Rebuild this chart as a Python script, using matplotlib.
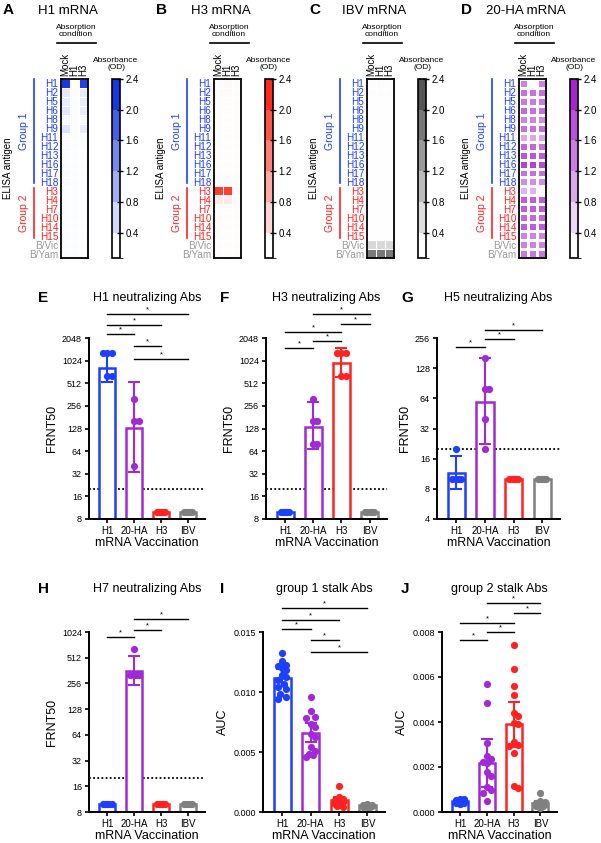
import numpy as np
import matplotlib
matplotlib.use("Agg")
import matplotlib.pyplot as plt
from matplotlib.colors import LinearSegmentedColormap, ListedColormap, BoundaryNorm, Normalize
from matplotlib.cm import ScalarMappable
from matplotlib.lines import Line2D
import matplotlib.transforms as mtransforms

plt.rcParams['font.family'] = ['Liberation Sans', 'DejaVu Sans']

# ---------------- data ----------------
rows = ["H1", "H2", "H5", "H6", "H8", "H9", "H11", "H12", "H13", "H16", "H17", "H18",
        "H3", "H4", "H7", "H10", "H14", "H15", "B/Vic", "B/Yam"]
conds = ["Mock", "H1", "H3"]

# absorbance (OD) per ELISA antigen x absorption condition
od_h1 = [[2.4, 0.07, 2.3], [0.35, 0.1, 0.3], [0.3, 0.1, 0.3], [0.35, 0.1, 0.3],
         [0.15, 0.1, 0.15], [0.4, 0.1, 0.3], [0.12, 0.1, 0.1], [0.12, 0.1, 0.1],
         [0.1, 0.1, 0.1], [0.1, 0.1, 0.1], [0.12, 0.1, 0.1], [0.12, 0.1, 0.1],
         [0.1, 0.1, 0.1], [0.1, 0.1, 0.1], [0.1, 0.1, 0.1], [0.1, 0.1, 0.1],
         [0.1, 0.1, 0.1], [0.12, 0.1, 0.1], [0.1, 0.1, 0.1], [0.1, 0.1, 0.1]]
od_h3 = [[0.1, 0.15, 0.1], [0.12, 0.12, 0.1], [0.1, 0.1, 0.1], [0.1, 0.1, 0.1],
         [0.1, 0.1, 0.1], [0.1, 0.1, 0.1], [0.1, 0.1, 0.1], [0.1, 0.1, 0.1],
         [0.1, 0.1, 0.1], [0.1, 0.1, 0.1], [0.1, 0.1, 0.1], [0.1, 0.1, 0.1],
         [2.2, 2.2, 0.15], [0.3, 0.3, 0.1], [0.1, 0.1, 0.1], [0.1, 0.1, 0.1],
         [0.1, 0.1, 0.1], [0.1, 0.1, 0.1], [0.1, 0.1, 0.1], [0.1, 0.1, 0.1]]
od_ibv = [[0.1, 0.12, 0.1], [0.1, 0.1, 0.1], [0.08, 0.08, 0.08], [0.08, 0.08, 0.08],
          [0.08, 0.08, 0.08], [0.08, 0.08, 0.08], [0.08, 0.08, 0.08], [0.08, 0.08, 0.08],
          [0.08, 0.08, 0.08], [0.08, 0.08, 0.08], [0.08, 0.08, 0.08], [0.08, 0.08, 0.08],
          [0.08, 0.08, 0.08], [0.08, 0.08, 0.08], [0.08, 0.08, 0.08], [0.08, 0.08, 0.08],
          [0.08, 0.08, 0.08], [0.08, 0.08, 0.08], [0.6, 0.6, 0.6], [1.9, 1.9, 1.9]]
od_20ha = [[1.4, 0.07, 1.4], [1.6, 1.6, 1.6], [1.5, 1.5, 1.5], [1.7, 1.6, 1.6],
           [1.4, 1.4, 1.3], [1.6, 1.6, 1.6], [1.0, 1.0, 1.0], [1.7, 1.7, 1.6],
           [1.9, 1.9, 1.8], [2.1, 2.1, 2.0], [1.6, 1.6, 1.6], [1.3, 1.3, 1.3],
           [0.9, 0.9, 0.07], [1.8, 1.8, 1.8], [1.8, 1.8, 1.8], [1.7, 1.7, 1.7],
           [1.8, 1.8, 1.8], [1.4, 1.4, 1.4], [1.4, 1.4, 1.4], [1.5, 1.5, 1.5]]

groups = ["H1", "20-HA", "H3", "IBV"]

# E: H1 neutralizing (FRNT50)
e_pts = [[1280, 1280, 1280, 640, 640], [320, 160, 160, 40], [10, 10, 10, 10, 10], [10, 10, 10, 10, 10]]
e_mean = [815, 130, 10, 10]
e_lo = [540, 34, 10, 10]
e_hi = [1290, 530, 10, 10]
# F: H3 neutralizing
f_pts = [[10, 10, 10, 10, 10], [320, 160, 160, 80, 80], [1280, 1280, 1280, 640, 640], [10, 10, 10, 10, 10]]
f_mean = [10, 136, 950, 10]
f_lo = [10, 68, 620, 10]
f_hi = [10, 284, 1530, 10]
# G: H5 neutralizing
g_pts = [[20, 10, 10, 10, 10], [160, 80, 80, 40, 20], [10, 10, 10, 10, 10], [10, 10, 10, 10, 10]]
g_mean = [11.4, 59, 10, 10]
g_lo = [7.9, 22.6, 10, 10]
g_hi = [16.9, 160, 10, 10]
# H: H7 neutralizing
h_pts = [[10, 10, 10, 10, 10], [640, 320, 320, 320, 320], [10, 10, 10, 10, 10], [10, 10, 10, 10, 10]]
h_mean = [10, 362, 10, 10]
h_lo = [10, 248, 10, 10]
h_hi = [10, 541, 10, 10]
# I: group 1 stalk (AUC)
i_pts = [[0.01325, 0.01256, 0.01222, 0.01217, 0.01203, 0.01186, 0.01139, 0.01125, 0.01097,
          0.01064, 0.01042, 0.01028, 0.00986, 0.00958, 0.00944],
         [0.00958, 0.00839, 0.00792, 0.00783, 0.00736, 0.00708, 0.00653, 0.00625, 0.00542,
          0.00508, 0.00486, 0.00472, 0.00458],
         [0.0022, 0.00125, 0.0011, 0.0010, 0.0010, 0.0009, 0.0009, 0.0008, 0.0008, 0.0007,
          0.0006, 0.0005, 0.0004],
         [0.0007, 0.0006, 0.0006, 0.0005, 0.0005, 0.0005, 0.0005, 0.0004, 0.0004, 0.0004]]
i_mean = [0.0112, 0.0066, 0.00097, 0.00056]
i_err = [0.0007, 0.0008, 0.0003, 0.0001]
# J: group 2 stalk (AUC)
j_pts = [[0.0006, 0.00058, 0.00055, 0.00052, 0.0005, 0.0005, 0.00048, 0.00046, 0.00045,
          0.00044, 0.00042, 0.0004, 0.0004, 0.00038, 0.00035],
         [0.00571, 0.00486, 0.00306, 0.00249, 0.00235, 0.00224, 0.0022, 0.0018, 0.00158,
          0.00111, 0.00096, 0.00084, 0.00047],
         [0.00744, 0.00635, 0.0056, 0.00522, 0.00438, 0.00427, 0.00394, 0.00391, 0.00313,
          0.00298, 0.00295, 0.00261, 0.00117, 0.00106],
         [0.00084, 0.0005, 0.00045, 0.0004, 0.00038, 0.00035, 0.0003, 0.00028, 0.00025, 0.0002]]
j_mean = [0.00047, 0.00217, 0.0039, 0.00038]
j_err = [0.0001, 0.00108, 0.001, 0.0001]

# significance brackets: (group a, group b, height in axes fraction)
e_sig = [(0, 3, 1.133), (0, 2, 1.072), (0, 1, 1.022), (1, 2, 0.956), (1, 3, 0.884)]
f_sig = [(1, 3, 1.133), (2, 3, 1.077), (0, 2, 1.033), (1, 2, 0.983), (0, 1, 0.945)]
g_sig = [(1, 3, 1.044), (1, 2, 0.994), (0, 1, 0.950)]
h_sig = [(1, 3, 1.072), (1, 2, 1.011), (0, 1, 0.972)]
i_sig = [(0, 3, 1.133), (0, 2, 1.067), (0, 1, 1.017), (1, 2, 0.956), (1, 3, 0.889)]
j_sig = [(1, 3, 1.161), (2, 3, 1.106), (0, 2, 1.05), (1, 2, 1.0), (0, 1, 0.956)]

BLUE = '#1f3fff'
PURPLE = '#a12ad6'
RED = '#ff2222'
GRAY = '#808080'
bar_colors = [BLUE, PURPLE, RED, GRAY]

W, H = 601, 843
fig = plt.figure(figsize=(W / 100, H / 100), dpi=100)


def px_axes(l, t, r, b):
    return fig.add_axes([l / W, 1 - b / H, (r - l) / W, (b - t) / H])


def ftext(x, y, s, **kw):
    fig.text(x / W, 1 - y / H, s, **kw)


def fline(x0, y0, x1, y1, **kw):
    fig.add_artist(Line2D([x0 / W, x1 / W], [1 - y0 / H, 1 - y1 / H], **kw))


# ---------------- heatmaps A-D ----------------
row_colors = [BLUE] * 12 + [RED] * 6 + ['#999999'] * 2
bounds = [0.07, 0.4, 0.8, 1.2, 1.6, 2.0, 2.4]


def heat_panel(off, letter, title, vals, top_color, gridw):
    cmap = LinearSegmentedColormap.from_list('c', ['white', top_color])
    norm = Normalize(0.07, 2.4)
    ax = px_axes(61 + off, 79, 88 + off, 258)
    ax.pcolormesh(np.array(vals), cmap=cmap, norm=norm, edgecolors='white', linewidth=gridw)
    ax.set_xlim(0, 3)
    ax.set_ylim(len(rows), 0)
    ax.set_yticks(np.arange(len(rows)) + 0.5)
    ax.set_yticklabels(rows, fontsize=7.2)
    for lbl, c in zip(ax.get_yticklabels(), row_colors):
        lbl.set_color(c)
    ax.xaxis.tick_top()
    ax.set_xticks(np.arange(3) + 0.5)
    ax.set_xticklabels(conds, rotation=90, fontsize=7)
    ax.tick_params(length=0, pad=2)
    for s in ax.spines.values():
        s.set_linewidth(1.3)

    # colorbar with stepped blocks
    cb_cmap = ListedColormap([cmap(k / 5) for k in range(6)])
    sm = ScalarMappable(norm=BoundaryNorm(bounds, 6), cmap=cb_cmap)
    cax = px_axes(112 + off, 79, 120 + off, 258)
    cb = fig.colorbar(sm, cax=cax, spacing='proportional', ticks=bounds[1:])
    cb.ax.set_yticklabels(['0.4', '0.8', '1.2', '1.6', '2.0', '2.4'], fontsize=7)
    cb.ax.tick_params(direction='inout', length=4, width=1, pad=2)
    cb.outline.set_linewidth(1.2)
    ftext(116 + off, 64, "Absorbance\n(OD)", fontsize=6, ha='center', va='center', linespacing=1.1)

    # header
    ftext(76 + off, 31, "Absorption\ncondition", fontsize=6, ha='center', va='center', linespacing=1.1)
    fline(57 + off, 43, 96 + off, 43, color='black', lw=1.2)
    ftext(68 + off, 11, title, fontsize=9.5, ha='center', va='center')
    ftext(3 + off, 10, letter, fontsize=11, fontweight='bold', ha='left', va='center')

    # antigen groups
    fline(34 + off, 79, 34 + off, 183, color=BLUE, lw=1.2)
    fline(34 + off, 188, 34 + off, 238, color=RED, lw=1.2)
    ftext(24 + off, 131, "Group 1", color=BLUE, fontsize=7.5, rotation=90, ha='center', va='center')
    ftext(24 + off, 213, "Group 2", color=RED, fontsize=7.5, rotation=90, ha='center', va='center')
    ftext(8 + off, 168, "ELISA antigen", fontsize=7, rotation=90, ha='center', va='center')


heat_panel(0, "A", "H1 mRNA", od_h1, '#1a37e6', 0.6)
heat_panel(153, "B", "H3 mRNA", od_h3, '#ff2a1a', 0.6)
heat_panel(306, "C", "IBV mRNA", od_ibv, '#555555', 0.6)
heat_panel(458, "D", "20-HA mRNA", od_20ha, '#a826d0', 1.0)

# ---------------- bar panels E-J ----------------
R_PX = 3.5


def swarm_offsets(ax, xc, vals, half_w):
    vals = np.asarray(vals, float)
    y = ax.transData.transform(np.column_stack([np.full(len(vals), xc), vals]))[:, 1]
    p = ax.transData.transform([(xc, vals[0]), (xc + 1, vals[0])])
    ppu = p[1, 0] - p[0, 0]
    maxoff = half_w * ppu - R_PX
    step = R_PX * 0.6
    cands = [0.0]
    k = 1
    while k * step <= maxoff:
        cands += [k * step, -k * step]
        k += 1
    placed = []
    offs = np.zeros(len(vals))
    for i in range(len(vals)):
        best, bestd = 0.0, -1
        for c in cands:
            if not placed:
                best = c
                break
            dmin = min(np.hypot(c - px, y[i] - py) for px, py in placed)
            if dmin >= 2 * R_PX * 0.95:
                best = c
                break
            if dmin > bestd:
                bestd, best = dmin, c
        offs[i] = best
        placed.append((best, y[i]))
    return offs / ppu


def bar_panel(rect, letter, letter_x, title, pts, means, lo, hi, ylim, yticks, ytlabels,
              ylabel, sig, log=True, lod=None):
    l, t, r, b = rect
    ax = px_axes(l, t, r, b)
    if log:
        ax.set_yscale('log', base=2)
    ax.set_ylim(*ylim)
    ax.set_xlim(-0.68, 3.62)
    ax.minorticks_off()
    x = np.arange(len(groups))
    ax.bar(x, np.array(means) - ylim[0], bottom=ylim[0], width=0.6, facecolor='white',
           edgecolor=bar_colors, linewidth=1.8, zorder=2)
    if lod is not None:
        ax.axhline(lod, ls=(0, (1, 1.3)), color='black', lw=1.3, zorder=1)
    for k in range(len(groups)):
        offs = swarm_offsets(ax, x[k], pts[k], 0.3)
        ax.plot(x[k] + offs, pts[k], 'o', color=bar_colors[k], markersize=5.2, mec='none', zorder=3)
        if hi[k] > lo[k]:
            ax.errorbar(x[k], means[k], yerr=[[means[k] - lo[k]], [hi[k] - means[k]]],
                        color=bar_colors[k], capsize=4, capthick=1.5, elinewidth=1.5, zorder=4)
    ax.set_yticks(yticks)
    ax.set_yticklabels(ytlabels, fontsize=6.5)
    ax.set_xticks(x)
    ax.set_xticklabels(groups, fontsize=7)
    ax.set_xlabel("mRNA Vaccination", fontsize=9, labelpad=1)
    ax.set_ylabel(ylabel, fontsize=9, labelpad=3)
    for s in ['top', 'right']:
        ax.spines[s].set_visible(False)
    for s in ['left', 'bottom']:
        ax.spines[s].set_linewidth(1.4)
    ax.tick_params(direction='out', length=3, width=1.2, pad=2)

    tr = mtransforms.blended_transform_factory(ax.transData, ax.transAxes)
    for a, bb, yf in sig:
        ax.plot([a, bb], [yf, yf], color='black', lw=1.0, transform=tr, clip_on=False)
        ax.text((a + bb) / 2, yf + 0.004, '*', transform=tr, ha='center', va='bottom', fontsize=5.5)

    ty = t - 40 if t < 400 else t - 43
    ftext((l + r) / 2, ty, title, fontsize=9, ha='center', va='center')
    ftext(letter_x, ty, letter, fontsize=11, fontweight='bold', ha='left', va='center')
    return ax


p2 = [8, 16, 32, 64, 128, 256, 512, 1024, 2048]
bar_panel((89, 338, 205, 519), "E", 38, "H1 neutralizing Abs", e_pts, e_mean, e_lo, e_hi,
          (8, 2048), p2, [str(v) for v in p2], "FRNT50", e_sig, lod=20)
bar_panel((266, 338, 387, 519), "F", 220, "H3 neutralizing Abs", f_pts, f_mean, f_lo, f_hi,
          (8, 2048), p2, [str(v) for v in p2], "FRNT50", f_sig, lod=20)
p3 = [4, 8, 16, 32, 64, 128, 256]
bar_panel((437, 338, 560, 519), "G", 401, "H5 neutralizing Abs", g_pts, g_mean, g_lo, g_hi,
          (4, 256), p3, [str(v) for v in p3], "FRNT50", g_sig, lod=20)
p4 = [8, 16, 32, 64, 128, 256, 512, 1024]
bar_panel((89, 632, 205, 812), "H", 38, "H7 neutralizing Abs", h_pts, h_mean, h_lo, h_hi,
          (8, 1024), p4, [str(v) for v in p4], "FRNT50", h_sig, lod=20)
t_i = [0, 0.005, 0.010, 0.015]
bar_panel((263, 632, 385, 812), "I", 220, "group 1 stalk Abs", i_pts, i_mean,
          np.array(i_mean) - np.array(i_err), np.array(i_mean) + np.array(i_err),
          (0, 0.015), t_i, ["%.3f" % v for v in t_i], "AUC", i_sig, log=False)
t_j = [0, 0.002, 0.004, 0.006, 0.008]
bar_panel((442, 632, 557, 812), "J", 401, "group 2 stalk Abs", j_pts, j_mean,
          np.array(j_mean) - np.array(j_err), np.array(j_mean) + np.array(j_err),
          (0, 0.008), t_j, ["%.3f" % v for v in t_j], "AUC", j_sig, log=False)

fig.savefig("out.png", dpi=100)
